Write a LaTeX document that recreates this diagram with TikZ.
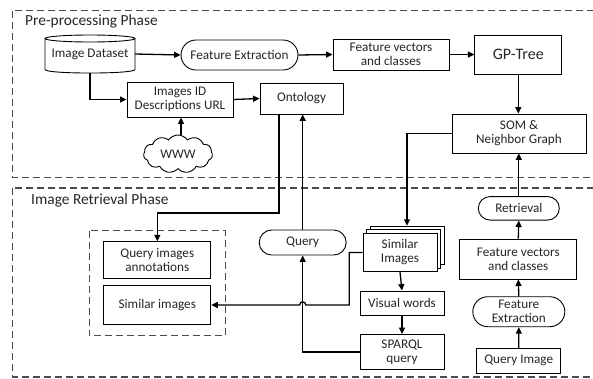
\documentclass[tikz,border=0pt]{standalone}
\usepackage{fontspec}
\setmainfont{Carlito}
\usetikzlibrary{arrows.meta,shapes.misc,shapes.symbols,calc}
\newcommand\txt{\fontsize{13.2}{14}\selectfont}
\newcommand\ttl{\fontsize{15.4}{17}\selectfont}
\begin{document}
\begin{tikzpicture}[x=1pt,y=-1pt,
  every node/.style={text=black!85},
  blk/.style={draw, line width=0.9pt, align=center, inner sep=0pt, font=\txt},
  pill/.style={blk, rounded rectangle},
  phase/.style={draw=black!70, line width=1.1pt, dash pattern=on 7pt off 4pt},
  conn/.style={line width=1.3pt, -{Triangle[length=6.5pt,width=6pt]}},
  plain/.style={line width=1.3pt}]
\clip (0,0) rectangle (593,378);
\fill[white] (0,0) rectangle (593,378);

% phase frames
\draw[phase] (12.5,10.5) rectangle (620,177.5);
\draw[phase] (12.5,188) rectangle (620,377);
\node[anchor=west, font=\ttl, inner sep=0pt] (t1) at (25,21) {Pre-processing Phase};
\node[anchor=west, font=\ttl, inner sep=0pt] (t2) at (31,200) {Image Retrieval Phase};

% image dataset (cylinder)
\node[font=\txt, minimum width=90pt, minimum height=38pt, inner sep=0pt] (ds) at (90,54) {Image Dataset};
\draw[line width=0.9pt] (90,38.5) ellipse [x radius=45pt, y radius=3.5pt];
\draw[line width=0.9pt] (45,38.5) -- (45,69.5) .. controls (45,74.2) and (135,74.2) .. (135,69.5) -- (135,38.5);

% pre-processing nodes
\node[pill, minimum width=117pt, minimum height=30pt] (fe) at (239.5,55) {Feature Extraction};
\node[blk, minimum width=116pt, minimum height=31pt] (fv) at (391,54.5) {Feature vectors\\and classes};
\node[blk, minimum width=87pt, minimum height=39pt, font=\fontsize{16}{18}\selectfont] (gp) at (518.3,54.5) {GP-Tree};
\node[blk, minimum width=134pt, minimum height=39pt] (som) at (519,133.5) {SOM \&\\Neighbor Graph};
\node[blk, minimum width=106pt, minimum height=35pt] (idu) at (180,99.5) {Images ID\\Descriptions URL};
\node[blk, minimum width=83pt, minimum height=31pt] (onto) at (301.5,98.5) {Ontology};
\node[cloud, draw, line width=0.9pt, cloud puffs=11, cloud puff arc=110, aspect=1.8,
      minimum width=69pt, minimum height=38pt, inner sep=0pt, font=\txt] (www) at (178,154) {WWW};

% retrieval nodes
\draw[phase, line width=1pt] (89,230.7) rectangle (225,335.7);
\node[blk, minimum width=107pt, minimum height=37pt] (qia) at (157.3,260.3) {Query images\\annotations};
\node[blk, minimum width=107pt, minimum height=38.5pt] (sim) at (157.3,305) {Similar images};
\node[pill, minimum width=87pt, minimum height=25pt] (qry) at (302.7,242.5) {Query};

\node[blk, fill=white, minimum width=74pt, minimum height=38.5pt] (sib) at (407,245.5) {};
\node[blk, fill=white, minimum width=74pt, minimum height=38.5pt] (sim2) at (403.5,249) {};
\node[blk, fill=white, minimum width=74pt, minimum height=38.5pt] (si) at (400,252.5) {Similar\\Images};
\node[blk, minimum width=84pt, minimum height=24pt] (vw) at (402,303) {Visual words};
\node[blk, minimum width=84pt, minimum height=35pt] (sq) at (402,352) {SPARQL\\query};

\node[pill, minimum width=81pt, minimum height=23.5pt] (ret) at (518.8,208.3) {Retrieval};
\node[blk, minimum width=117pt, minimum height=40pt] (fv2) at (518.3,259) {Feature vectors\\and classes};
\node[pill, minimum width=92pt, minimum height=30pt] (fe2) at (518.8,311.7) {Feature\\Extraction};
\node[blk, minimum width=84pt, minimum height=25pt] (qi) at (518.7,360.8) {Query Image};

% pre-processing connectors
\draw[conn] (ds.east) -- (fe.west);
\draw[conn] (fe.east) -- (fv.west);
\draw[conn] (fv.east) -- (gp.west);
\draw[conn] (gp.south) -- (gp.south |- som.north);
\draw[conn] (ds.south) |- (idu.west);
\draw[conn] (idu.east) -- (onto.west);
\draw[conn] (www.north -| 181,0) -- (181,0 |- idu.south);

% connectors between phases
\draw[conn] ([xshift=-22.5pt]onto.south) |- (157.3,213) -| (qia.north);
\draw[conn] (som.west) -| (sib.north);
\draw[conn] (ret.north) -- (ret.north |- som.south);
\draw[conn] (qry.north) -- (qry.north |- onto.south);

% retrieval connectors
\draw[conn] (si.south) -- (vw.north);
\draw[conn] (vw.south) -- (sq.north);
\draw[conn] (sq.west) -| (qry.south);
\draw[conn] (si.west) -- (349.3,0 |- si.west) -- (349.3,305) -- (305.8,305)
  .. controls (305.8,300.8) and (299.6,300.8) .. (299.6,305) -- (sim.east);
\draw[conn] (qi.north) -- (fe2.south);
\draw[conn] (fe2.north) -- (fv2.south);
\draw[conn] (fv2.north) -- (ret.south);
\end{tikzpicture}
\end{document}
